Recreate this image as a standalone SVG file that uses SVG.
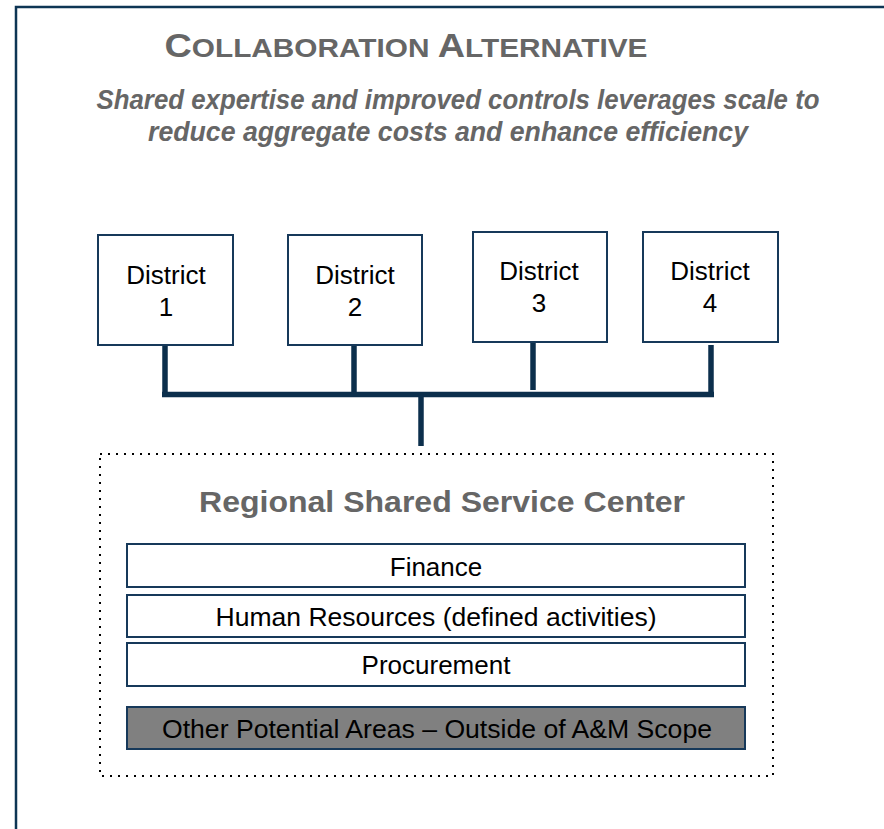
<svg xmlns="http://www.w3.org/2000/svg" width="884" height="829" viewBox="0 0 884 829">
<style>
.frame{fill:none;stroke:#0d3554;stroke-width:2.5}
.box{fill:#ffffff;stroke:#17395a;stroke-width:2}
.gbox{fill:#808080;stroke:#17395a;stroke-width:2}
.dt{font-family:"Liberation Sans",Arial,sans-serif;font-size:26px;fill:#000;text-anchor:middle}
.hd{font-family:"Liberation Sans",Arial,sans-serif;font-weight:bold;fill:#666666;text-anchor:middle}
.conn{stroke:#0c2f4c;stroke-width:5.5;fill:none;stroke-linecap:butt}
</style>
<rect width="884" height="829" fill="#ffffff"/>
<path class="frame" d="M16,829 V7 H884"/>
<text class="hd" x="406" y="57" font-size="33" textLength="483" lengthAdjust="spacingAndGlyphs">C<tspan font-size="26">OLLABORATION </tspan>A<tspan font-size="26">LTERNATIVE</tspan></text>
<text class="hd" x="458" y="109" font-size="27" font-style="italic" textLength="723" lengthAdjust="spacingAndGlyphs">Shared expertise and improved controls leverages scale to</text>
<text class="hd" x="448" y="141" font-size="27" font-style="italic" textLength="600" lengthAdjust="spacingAndGlyphs">reduce aggregate costs and enhance efficiency</text>
<g id="connectors">
<line class="conn" x1="165" y1="345" x2="165" y2="397"/>
<line class="conn" x1="354" y1="345" x2="354" y2="397"/>
<line class="conn" x1="533" y1="342" x2="533" y2="390"/>
<line class="conn" x1="711" y1="345" x2="711" y2="397"/>
<line class="conn" x1="162" y1="394.5" x2="714" y2="394.5"/>
<line class="conn" x1="421" y1="394.5" x2="421" y2="446"/>
</g>
<g id="district1">
<rect class="box" x="98" y="235" width="135" height="110"/>
<text class="dt" x="166" y="284">District</text>
<text class="dt" x="166" y="316">1</text>
</g>
<g id="district2">
<rect class="box" x="288" y="235" width="134" height="110"/>
<text class="dt" x="355" y="284">District</text>
<text class="dt" x="355" y="316">2</text>
</g>
<g id="district3">
<rect class="box" x="473" y="232" width="134" height="110"/>
<text class="dt" x="539" y="280">District</text>
<text class="dt" x="539" y="312">3</text>
</g>
<g id="district4">
<rect class="box" x="643" y="232" width="135" height="110"/>
<text class="dt" x="710" y="280">District</text>
<text class="dt" x="710" y="312">4</text>
</g>
<g id="regional-center">
<rect x="100" y="454" width="673" height="322" fill="none" stroke="#000" stroke-width="2" stroke-dasharray="2,6"/>
<text class="hd" x="442" y="512" font-size="30" textLength="486" lengthAdjust="spacingAndGlyphs">Regional Shared Service Center</text>
</g>
<g id="finance">
<rect class="box" x="127" y="544" width="618" height="43"/>
<text class="dt" x="436" y="576" font-size="25">Finance</text>
</g>
<g id="hr">
<rect class="box" x="127" y="595" width="618" height="42"/>
<text class="dt" x="436" y="626" font-size="25" textLength="441" lengthAdjust="spacingAndGlyphs">Human Resources (defined activities)</text>
</g>
<g id="procurement">
<rect class="box" x="127" y="643" width="618" height="43"/>
<text class="dt" x="436" y="674" font-size="25">Procurement</text>
</g>
<g id="other">
<rect class="gbox" x="127" y="707" width="618" height="42"/>
<text class="dt" x="437" y="738" font-size="25" textLength="550" lengthAdjust="spacingAndGlyphs">Other Potential Areas – Outside of A&amp;M Scope</text>
</g>
</svg>
